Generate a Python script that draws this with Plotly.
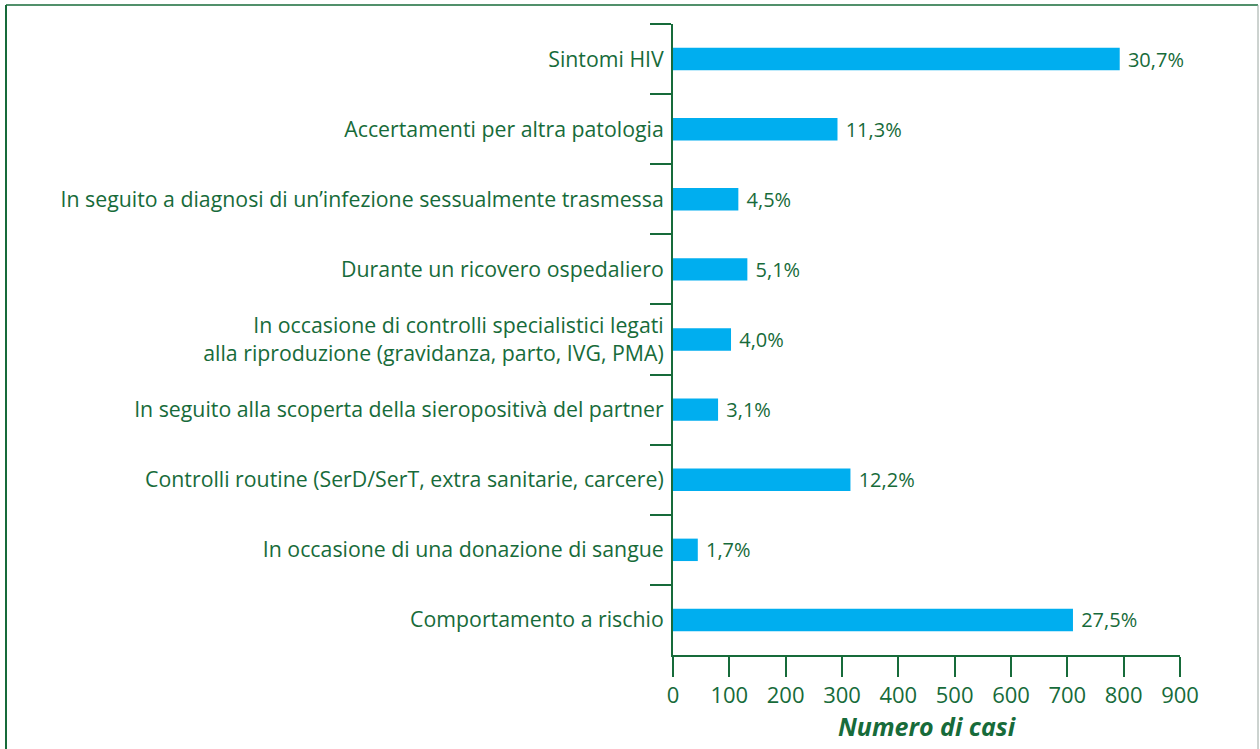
import plotly.graph_objects as go

categories = [
    "Sintomi HIV",
    "Accertamenti per altra patologia",
    "In seguito a diagnosi di un’infezione sessualmente trasmessa",
    "Durante un ricovero ospedaliero",
    "In occasione di controlli specialistici legati<br>alla riproduzione (gravidanza, parto, IVG, PMA)",
    "In seguito alla scoperta della sieropositivà del partner",
    "Controlli routine (SerD/SerT, extra sanitarie, carcere)",
    "In occasione di una donazione di sangue",
    "Comportamento a rischio",
]
cases = [793, 292, 116, 132, 103, 80, 315, 44, 710]
percent_labels = ["30,7%", "11,3%", "4,5%", "5,1%", "4,0%", "3,1%", "12,2%", "1,7%", "27,5%"]
x_ticks = [0, 100, 200, 300, 400, 500, 600, 700, 800, 900]

GREEN = "#176b3a"
BLUE = "#00aeef"
FONT = "Open Sans"

fig = go.Figure(
    go.Bar(
        y=categories,
        x=cases,
        orientation="h",
        width=0.32,
        marker=dict(color=BLUE, line=dict(width=0)),
        text=[" " + t for t in percent_labels],
        textposition="outside",
        constraintext="none",
        textfont=dict(family=FONT, size=20, color=GREEN),
        cliponaxis=False,
        hoverinfo="skip",
    )
)

fig.update_layout(
    width=1260,
    height=749,
    margin=dict(l=673, r=80, t=24, b=94),
    paper_bgcolor="white",
    plot_bgcolor="white",
    showlegend=False,
    font=dict(family=FONT, color=GREEN, size=21),
    xaxis=dict(
        range=[0, 900],
        tickvals=x_ticks,
        ticktext=[str(v) for v in x_ticks],
        showgrid=False,
        zeroline=False,
        showline=True,
        linecolor=GREEN,
        linewidth=2,
        ticks="outside",
        ticklen=20,
        tickwidth=2,
        tickcolor=GREEN,
        tickfont=dict(family=FONT, size=22, color=GREEN),
        title=dict(
            text="<b><i>Numero di casi</i></b>",
            font=dict(family=FONT, size=25, color=GREEN),
            standoff=4,
        ),
        fixedrange=True,
    ),
    yaxis=dict(
        type="category",
        categoryorder="array",
        categoryarray=categories,
        autorange="reversed",
        showgrid=False,
        zeroline=False,
        showline=True,
        linecolor=GREEN,
        linewidth=2,
        ticks="outside",
        tickson="boundaries",
        ticklen=21,
        tickwidth=2,
        tickcolor=GREEN,
        ticklabelstandoff=3,
        tickfont=dict(family=FONT, size=21.3, color=GREEN),
        fixedrange=True,
    ),
)

# Outer frame (decoration)
x0 = (6 - 673) / 507
x1 = (1258 - 673) / 507
y_top = (655 - 5) / 631
y_bot = (655 - 760) / 631
fig.add_shape(type="line", xref="paper", yref="paper", x0=x0, x1=x1, y0=y_top, y1=y_top,
              line=dict(color=GREEN, width=1.5))
fig.add_shape(type="line", xref="paper", yref="paper", x0=x0, x1=x0, y0=y_bot, y1=y_top,
              line=dict(color=GREEN, width=2))
fig.add_shape(type="line", xref="paper", yref="paper", x0=x1, x1=x1, y0=y_bot, y1=y_top,
              line=dict(color="#9aa6a0", width=1))

fig.write_html(
    "out.html",
    config={"displayModeBar": False},
    post_script="document.body.style.margin='0';",
)
